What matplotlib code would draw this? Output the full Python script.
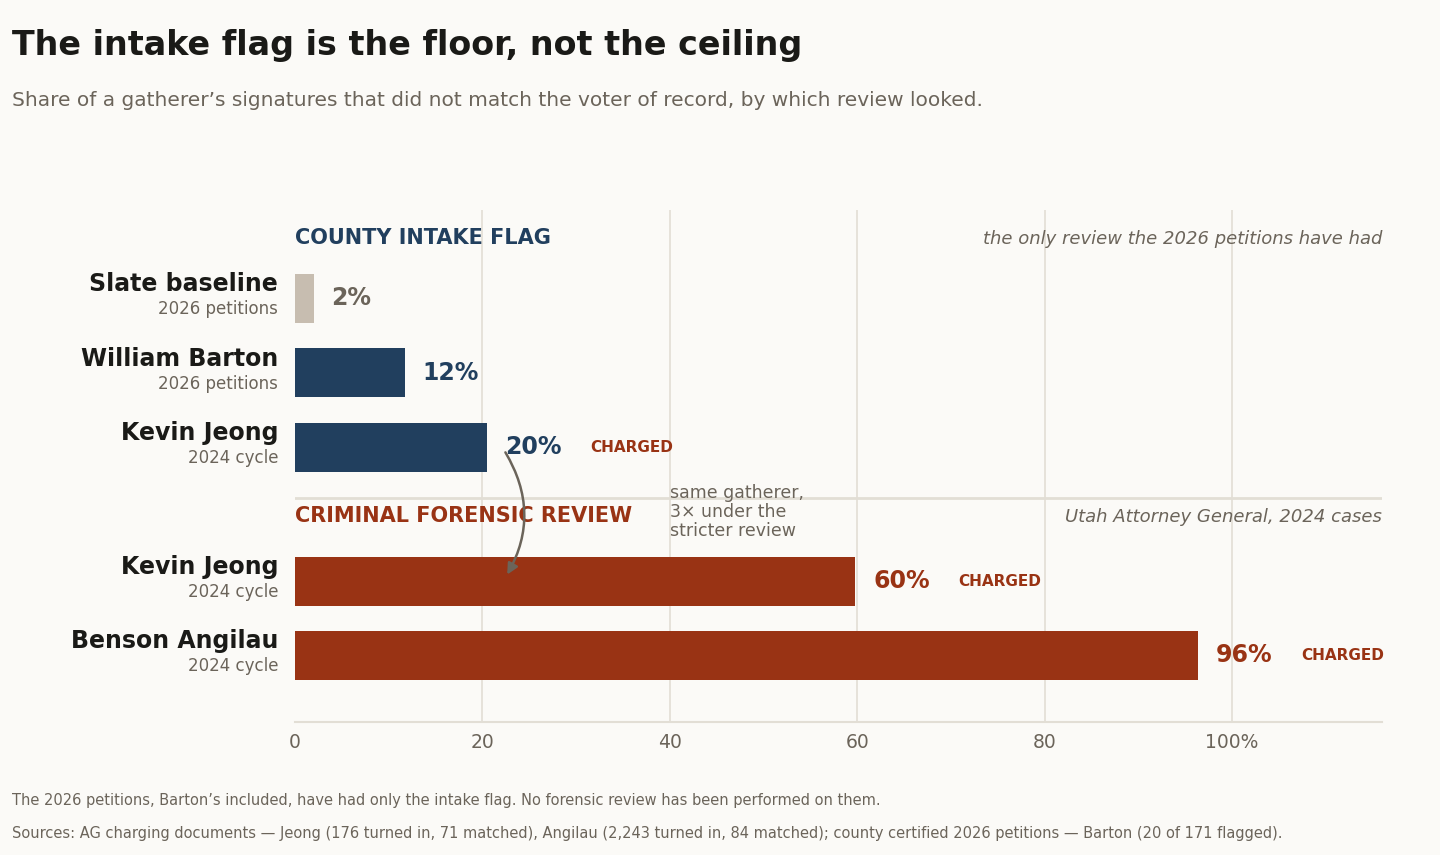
import matplotlib.pyplot as plt
from matplotlib.patches import FancyArrowPatch

BG = '#fbfaf7'
NAVY = '#213f5e'
RUST = '#993314'
BEIGE = '#c7bdb0'
DARK = '#1a1a17'
GRAY = '#6b645a'
GRID = '#e2ded5'

names = ['Slate baseline', 'William Barton', 'Kevin Jeong', 'Kevin Jeong', 'Benson Angilau']
subs = ['2026 petitions', '2026 petitions', '2024 cycle', '2024 cycle', '2024 cycle']
values = [2.0, 11.7, 20.5, 59.8, 96.4]
labels = ['2%', '12%', '20%', '60%', '96%']
charged = [False, False, True, True, True]
colors = [BEIGE, NAVY, NAVY, RUST, RUST]
label_colors = [GRAY, NAVY, NAVY, RUST, RUST]
# layout: vertical centres in pixel-like units (top-down)
ypos = [298, 373, 447, 581, 655]

fig = plt.figure(figsize=(14.4, 8.55), dpi=100, facecolor=BG)
ax = fig.add_axes([295/1440, 1-722/855, (1382-295)/1440, (722-210)/855])
ax.set_facecolor(BG)
ax.set_xlim(0, 116)
ax.set_ylim(722, 210)

for g in [20, 40, 60, 80, 100]:
    ax.axvline(g, color=GRID, lw=1.2, zorder=0)

ax.barh(ypos, values, height=49, color=colors, zorder=2)

for y, v, lab, c, ch, n, s in zip(ypos, values, labels, label_colors, charged, names, subs):
    ax.text(v + 1.9, y, lab, color=c, fontsize=17, fontweight='bold', va='center')
    if ch:
        ax.text(v + 11, y, 'CHARGED', color=RUST, fontsize=11, fontweight='bold', va='center')
    ax.text(-1.8, y - 2, n, ha='right', va='bottom', fontsize=17, fontweight='bold', color=DARK)
    ax.text(-1.8, y + 2, s, ha='right', va='top', fontsize=12, color=GRAY)

ax.axhline(498, color=GRID, lw=2)
ax.text(0, 238, 'COUNTY INTAKE FLAG', color=NAVY, fontsize=15, fontweight='bold', va='center')
ax.text(116, 239, 'the only review the 2026 petitions have had', color=GRAY, fontsize=13,
        style='italic', va='center', ha='right')
ax.text(0, 516, 'CRIMINAL FORENSIC REVIEW', color=RUST, fontsize=15, fontweight='bold', va='center')
ax.text(116, 517, 'Utah Attorney General, 2024 cases', color=GRAY, fontsize=13,
        style='italic', va='center', ha='right')
ax.text(40, 512, 'same gatherer,\n3\u00d7 under the\nstricter review', color=GRAY, fontsize=12.5,
        va='center', ha='left', linespacing=1.05)

arr = FancyArrowPatch((22.3, 450), (22.5, 577), connectionstyle='arc3,rad=-0.3',
                      arrowstyle='-|>', mutation_scale=16, color=GRAY, lw=1.8, zorder=3)
ax.add_patch(arr)

ax.set_yticks([])
ax.set_xticks([0, 20, 40, 60, 80, 100])
ax.set_xticklabels(['0', '20', '40', '60', '80', '100%'], fontsize=13.5, color=GRAY)
ax.tick_params(axis='x', length=0, pad=8)
for sp in ['top', 'right', 'left']:
    ax.spines[sp].set_visible(False)
ax.spines['bottom'].set_color(GRID)
ax.spines['bottom'].set_linewidth(1.5)

fig.text(12/1440, 1-46/855, 'The intake flag is the floor, not the ceiling', fontsize=24,
         fontweight='bold', color=DARK, va='center')
fig.text(12/1440, 1-100/855, 'Share of a gatherer\u2019s signatures that did not match the voter of record, by which review looked.',
         fontsize=14.5, color=GRAY, va='center')
fig.text(12/1440, 1-800/855, 'The 2026 petitions, Barton\u2019s included, have had only the intake flag. No forensic review has been performed on them.',
         fontsize=10.5, color=GRAY, va='center')
fig.text(12/1440, 1-833/855, 'Sources: AG charging documents \u2014 Jeong (176 turned in, 71 matched), Angilau (2,243 turned in, 84 matched); county certified 2026 petitions \u2014 Barton (20 of 171 flagged).',
         fontsize=10.5, color=GRAY, va='center')

fig.savefig('out.png', dpi=100, facecolor=BG)
